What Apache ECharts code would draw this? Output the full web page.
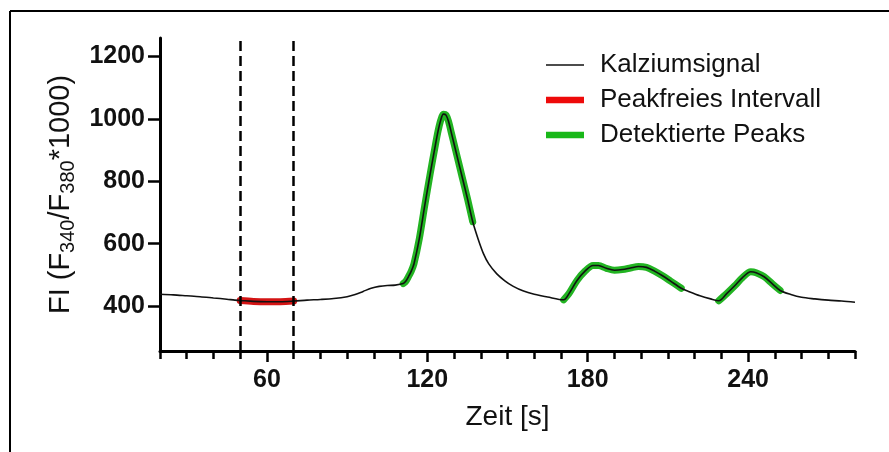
<!DOCTYPE html>
<html>
<head>
<meta charset="utf-8">
<script src="https://cdn.jsdelivr.net/npm/echarts@6/dist/echarts.min.js"></script>
<style>
html,body{margin:0;padding:0;background:#fff;}
#chart{width:889px;height:452px;}
</style>
</head>
<body>
<div id="chart"></div>
<script>
// Time [s]
const time = [20,25,30,35,40,45,48,50,55,60,65,70,75,80,85,90,93,96,99,102,105,108,
  111,112,113,114,115,117,119,121,123,124,125,126,127,128,129,131,133,135,137,
  139,141,143,146,149,152,156,160,165,171,
  173,176,179,182,184,187,190,193,196,199,202,205,208,211,215,
  218,222,226,229,232,235,238,241,243,246,249,252,256,260,265,270,275,280];
// Calcium signal FI (F340/F380*1000)
const signal = [438,436,433,430,426,422,419,418,415,414,414,416,419,421,424,430,437,447,457,463,466,467,
  472,480,495,512,535,615,720,820,915,960,995,1015,1012,990,955,885,815,745,670,
  615,568,535,503,481,464,448,438,429,420,
  440,482,512,530,530,521,515,517,522,527,524,512,497,480,457,
  446,433,423,417,440,465,492,510,507,494,472,450,437,428,423,419,416,412];
// Peak-free interval [s]
const intervalStart = 50, intervalEnd = 70;
// Detected peaks [s]
const peakStart = [111, 171, 229];
const peakEnd   = [137, 215, 252];
// Tick labels
const xLabels = [60,120,180,240];
const xMinorTicks = [20,30,40,50,60,70,80,90,100,110,120,130,140,150,160,170,180,190,200,210,220,230,240,250,260,270,280];
const yLabels = [400,600,800,1000,1200];

const FONT = '"Liberation Sans", Arial, sans-serif';
const pairs = time.map((t,i)=>[t, signal[i]]);
const redData = pairs.filter(p => p[0] >= intervalStart && p[0] <= intervalEnd);
const greenData = [];
peakStart.forEach((s,k)=>{
  pairs.forEach(p => { if (p[0] >= s && p[0] <= peakEnd[k]) greenData.push(p); });
  greenData.push([peakEnd[k] + 0.5, '-']);
});

const chart = echarts.init(document.getElementById('chart'), null, {renderer:'canvas'});
chart.setOption({
  animation: false,
  backgroundColor: '#fff',
  graphic: [
    {type:'line', shape:{x1:10,y1:11,x2:889,y2:11}, style:{stroke:'#000', lineWidth:2}},
    {type:'line', shape:{x1:10,y1:11,x2:10,y2:452}, style:{stroke:'#000', lineWidth:2}}
  ],
  grid: {left:160, right:34, top:38, bottom:101, containLabel:false},
  legend: {
    orient:'vertical', left:541, top:47, itemWidth:38, itemHeight:14, itemGap:9,
    textStyle:{fontFamily:FONT, fontSize:26, color:'#111', lineHeight:26, padding:[0,0,0,11]},
    data:[
      {name:'Kalziumsignal', icon:'path://M0,0H40V1.6H0Z', itemStyle:{color:'#111'}},
      {name:'Peakfreies Intervall', icon:'path://M0,0H40V7H0Z', itemStyle:{color:'#ee0a0a'}},
      {name:'Detektierte Peaks', icon:'path://M0,0H40V7H0Z', itemStyle:{color:'#19b819'}}
    ]
  },
  xAxis: [{
    type:'value', min:20, max:280,
    name:'Zeit [s]', nameLocation:'middle', nameGap:52,
    nameTextStyle:{fontFamily:FONT, fontSize:28, color:'#111'},
    axisLine:{show:true, lineStyle:{color:'#000', width:3}},
    axisTick:{show:true, length:8, lineStyle:{color:'#000', width:2.5}, customValues:xMinorTicks},
    axisLabel:{fontFamily:FONT, fontSize:25, fontWeight:'bold', color:'#111', margin:17, customValues:xLabels,
      formatter: v => String(v)},
    splitLine:{show:false}
  },{
    type:'value', min:20, max:280, position:'bottom',
    axisLine:{show:false},
    axisTick:{show:true, length:11, lineStyle:{color:'#000', width:2.5}, customValues:xLabels},
    axisLabel:{show:false},
    splitLine:{show:false}
  }],
  yAxis: {
    type:'value', min:256, max:1259,
    name:'{n|FI (F}{s|340}{n|/F}{s|380}{n|*1000)}',
    nameLocation:'middle', nameGap:75, nameRotate:90,
    nameTextStyle:{fontFamily:FONT, fontSize:29, color:'#111',
      rich:{
        n:{fontFamily:FONT, fontSize:29, color:'#111', lineHeight:34, verticalAlign:'middle'},
        s:{fontFamily:FONT, fontSize:20, color:'#111', lineHeight:20, verticalAlign:'bottom'}
      }},
    axisLine:{show:true, lineStyle:{color:'#000', width:3}},
    axisTick:{show:true, length:12, lineStyle:{color:'#000', width:2.5}, customValues:yLabels},
    axisLabel:{fontFamily:FONT, fontSize:25, fontWeight:'bold', color:'#111', margin:15, customValues:yLabels,
      formatter: v => String(v)},
    splitLine:{show:false}
  },
  series: [
    {
      name:'Peakfreies Intervall', type:'line', data:redData, showSymbol:false, symbol:'none',
      smooth:0.3, z:2,
      lineStyle:{color:'#d41414', width:7, cap:'round'}, itemStyle:{color:'#ee0a0a'},
      markLine:{
        silent:true, symbol:'none', label:{show:false},
        lineStyle:{color:'#000', width:2.5, type:[10,5]},
        data:[{xAxis:intervalStart},{xAxis:intervalEnd}]
      }
    },
    {
      name:'Detektierte Peaks', type:'line', data:greenData, showSymbol:false, symbol:'none',
      smooth:0.3, connectNulls:false, z:2,
      lineStyle:{color:'#22b422', width:7, cap:'round', join:'round'}, itemStyle:{color:'#19b819'}
    },
    {
      name:'Kalziumsignal', type:'line', data:pairs, showSymbol:false, symbol:'none',
      smooth:0.3, z:3,
      lineStyle:{color:'#111', width:1.6}, itemStyle:{color:'#111'}
    }
  ]
});
</script>
</body>
</html>
